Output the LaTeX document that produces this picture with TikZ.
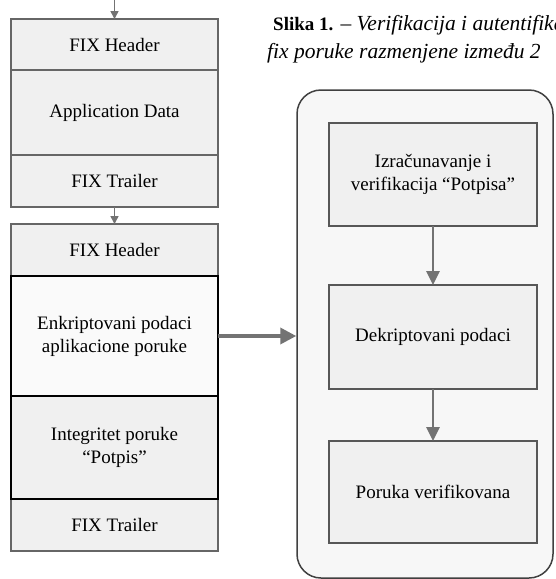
\documentclass[tikz,border=0pt]{standalone}
\usepackage{fontspec}
\setmainfont{Liberation Serif}
\usetikzlibrary{arrows.meta}

\definecolor{blockfill}{gray}{0.94}
\definecolor{blockline}{gray}{0.40}
\definecolor{arrowgray}{gray}{0.45}
\definecolor{panelfill}{gray}{0.97}
\definecolor{cipherfill}{gray}{0.98}

\tikzset{
	block/.style={draw=blockline, fill=blockfill, line width=1.4pt, minimum width=207pt,
		inner sep=0pt, outer sep=0pt, align=center, font=\fontsize{19}{23}\selectfont},
	keyblock/.style={block, draw=black, line width=2pt},
	checkbox/.style={block, minimum width=208pt, draw=blockline!85!black},
	thinflow/.style={draw=arrowgray, line width=1.5pt, -{Triangle[length=8pt,width=8pt]}},
	flow/.style={draw=arrowgray, line width=2.6pt, -{Triangle[length=14pt,width=13pt]}},
	bigflow/.style={draw=arrowgray, line width=3.5pt, -{Triangle[length=16pt,width=16pt]}},
	caption/.style={anchor=base west, inner sep=0pt, font=\fontsize{21.5}{26}\selectfont}
}

\begin{document}
\begin{tikzpicture}[x=1pt, y=-1pt]
	\clip (0,0) rectangle (555,579);
	\fill[white] (0,0) rectangle (555,579);

	% caption
	\node[caption] (capa) at (273,30)
		{{\fontsize{19}{23}\selectfont\textbf{Slika 1.}} \textit{– Verifikacija i autentifikacija}};
	\node[caption] (capb) at (267,58) {\textit{fix poruke razmenjene između 2}};

	% plain FIX message
	\coordinate (inflow) at (114.5,0);
	\node[block, minimum height=51pt] (hdra) at (114.5,44.5) {FIX Header};
	\node[block, minimum height=85pt] (appa) at (114.5,112.5) {Application Data};
	\node[block, minimum height=52pt] (trla) at (114.5,181) {FIX Trailer};

	% secured FIX message
	\node[block, minimum height=52pt] (hdrb) at (114.5,250) {FIX Header};
	\node[block, minimum height=52pt] (trlb) at (114.5,525) {FIX Trailer};
	\node[keyblock, fill=cipherfill, minimum height=120pt] (encb) at (114.5,336)
		{Enkriptovani podaci\\aplikacione poruke};
	\node[keyblock, minimum height=103pt] (sigb) at (114.5,447.5)
		{Integritet poruke\\“Potpis”};

	\draw[thinflow] (inflow) -- (hdra.north);
	\draw[thinflow] (trla.south) -- (hdrb.north);

	% receiving side
	\node[draw=black!75, fill=panelfill, line width=1.5pt, rounded corners=24pt,
		minimum width=256pt, minimum height=488pt, inner sep=0pt] (panel) at (425,334) {};
	\node[checkbox, minimum height=103pt] (calc) at (433,174.5)
		{Izračunavanje i\\verifikacija “Potpisa”};
	\node[checkbox, minimum height=104pt] (dec) at (433,337) {Dekriptovani podaci};
	\node[checkbox, minimum height=102pt] (ok) at (433,492) {Poruka verifikovana};

	\draw[flow] (calc.south) -- (dec.north);
	\draw[flow] (dec.south) -- (ok.north);
	\draw[bigflow] (encb.east) -- (panel.west |- encb.east);
\end{tikzpicture}
\end{document}
